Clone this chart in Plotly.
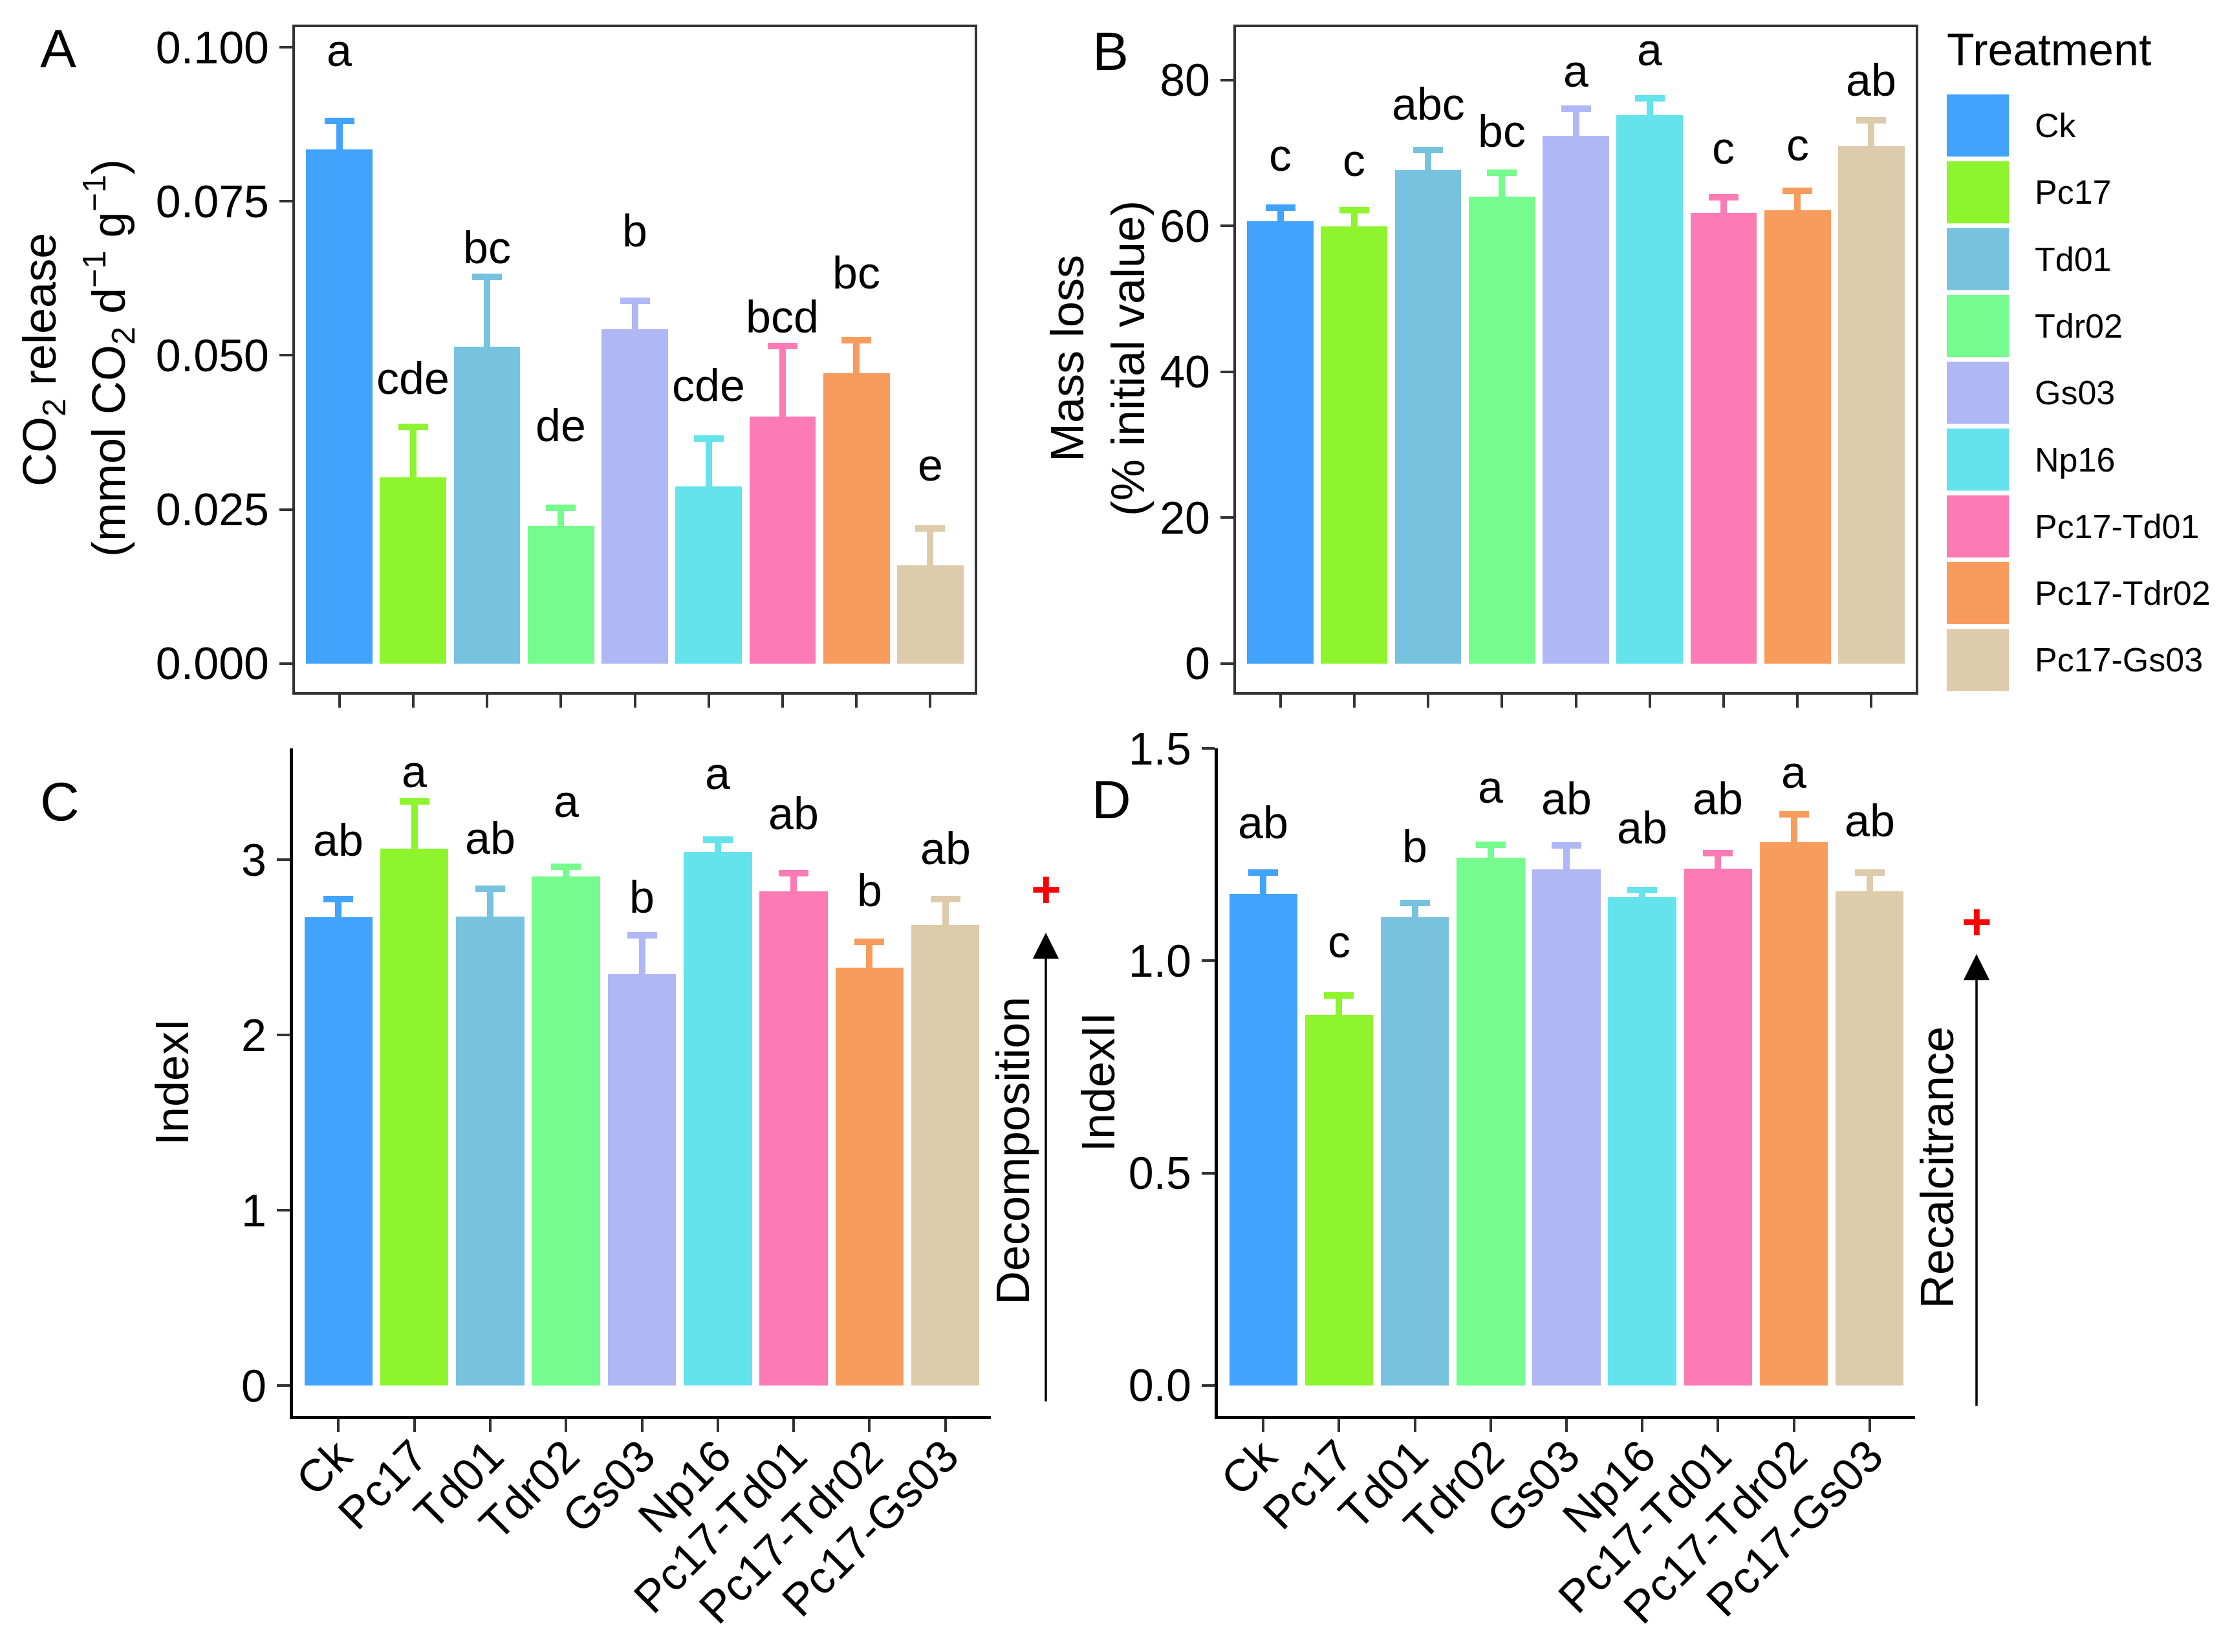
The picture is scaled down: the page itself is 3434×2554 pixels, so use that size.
import plotly.graph_objects as go

W, H = 3434, 2554
PAD = 8  # default page margin around the plot div
FW, FH = W - 2 * PAD, H - 2 * PAD
FONT = "Liberation Sans, Arial, sans-serif"

treatments = ["Ck", "Pc17", "Td01", "Tdr02", "Gs03", "Np16",
              "Pc17-Td01", "Pc17-Tdr02", "Pc17-Gs03"]
colors = ["#41A3FB", "#8DF42D", "#77C2DF", "#75FB8E", "#B0B7F5",
          "#64E3EC", "#FD7BB5", "#F89C5D", "#DDCBAB"]

# A: CO2 release
co2_mean = [0.0835, 0.0302, 0.0514, 0.0224, 0.0543, 0.0288, 0.0401, 0.0471, 0.0160]
co2_se = [0.0045, 0.0082, 0.0113, 0.0029, 0.0046, 0.0077, 0.0114, 0.0054, 0.0059]
co2_letters = ["a", "cde", "bc", "de", "b", "cde", "bcd", "bc", "e"]
co2_letter_y = [0.0960, 0.0428, 0.0640, 0.0351, 0.0667, 0.0416, 0.0528, 0.0599, 0.0287]
co2_ticks = [0, 0.025, 0.05, 0.075, 0.1]

# B: mass loss
mass_mean = [60.7, 60.0, 67.7, 64.1, 72.4, 75.2, 61.8, 62.2, 71.0]
mass_se = [1.8, 2.2, 2.7, 3.2, 3.7, 2.3, 2.1, 2.6, 3.5]
mass_letters = ["c", "c", "abc", "bc", "a", "a", "c", "c", "ab"]
mass_letter_y = [66.8, 66.1, 73.8, 70.1, 78.3, 81.2, 67.8, 68.2, 77.1]
mass_ticks = [0, 20, 40, 60, 80]

# C: IndexI
idx1_mean = [2.672, 3.062, 2.675, 2.905, 2.347, 3.045, 2.819, 2.385, 2.627]
idx1_se = [0.103, 0.270, 0.161, 0.054, 0.222, 0.068, 0.103, 0.147, 0.148]
idx1_letters = ["ab", "a", "ab", "a", "b", "a", "ab", "b", "ab"]
idx1_letter_y = [2.99, 3.38, 3.00, 3.21, 2.665, 3.37, 3.14, 2.70, 2.94]
idx1_ticks = [0, 1, 2, 3]

# D: IndexII
idx2_mean = [1.157, 0.873, 1.102, 1.242, 1.215, 1.150, 1.217, 1.279, 1.163]
idx2_se = [0.050, 0.046, 0.034, 0.031, 0.057, 0.017, 0.036, 0.065, 0.044]
idx2_letters = ["ab", "c", "b", "a", "ab", "ab", "ab", "a", "ab"]
idx2_letter_y = [1.275, 0.994, 1.218, 1.359, 1.331, 1.263, 1.331, 1.394, 1.279]
idx2_ticks = [0, 0.5, 1.0, 1.5]


def px(x):
    return (x - PAD) / FW


def py(y):
    return 1 - (y - PAD) / FH


panels = [
    dict(sfx="", mean=co2_mean, se=co2_se, letters=co2_letters, ly=co2_letter_y,
         dx=(456, 1507), dy=(41.7, 1070), yr=[-0.00464, 0.1033], ticks=co2_ticks,
         fmt=".3f", box=True),
    dict(sfx="2", mean=mass_mean, se=mass_se, letters=mass_letters, ly=mass_letter_y,
         dx=(1911, 2962), dy=(41.7, 1070), yr=[-3.92, 87.3], ticks=mass_ticks,
         fmt="d", box=True),
    dict(sfx="3", mean=idx1_mean, se=idx1_se, letters=idx1_letters, ly=idx1_letter_y,
         dx=(453, 1532), dy=(1157, 2189), yr=[-0.173, 3.635], ticks=idx1_ticks,
         fmt="d", box=False),
    dict(sfx="4", mean=idx2_mean, se=idx2_se, letters=idx2_letters, ly=idx2_letter_y,
         dx=(1883, 2961), dy=(1157, 2189), yr=[-0.0716, 1.5], ticks=idx2_ticks,
         fmt=".1f", box=False),
]

fig = go.Figure()
annotations = []
shapes = []

for p in panels:
    xa = "x" + p["sfx"]
    ya = "y" + p["sfx"]
    # push the lower cap of the one-sided error bar inside the bar, where it is hidden
    hide = (p["yr"][1] - p["yr"][0]) / (p["dy"][1] - p["dy"][0]) * 10
    for t, m, s, c in zip(treatments, p["mean"], p["se"], colors):
        fig.add_trace(go.Bar(
            x=[t], y=[m], width=0.9,
            marker=dict(color=c, line=dict(width=0)),
            error_y=dict(type="data", array=[s], arrayminus=[hide], symmetric=False,
                         color=c, thickness=10, width=23),
            xaxis=xa, yaxis=ya, showlegend=False, name=t,
        ))
    for t, lab, yv in zip(treatments, p["letters"], p["ly"]):
        annotations.append(dict(
            x=t, y=yv, xref=xa, yref=ya, text=lab, showarrow=False,
            yanchor="bottom", xanchor="center", yshift=-8,
            font=dict(family=FONT, size=70, color="black"),
        ))

    line_col = "#333333" if p["box"] else "black"
    line_w = 4 if p["box"] else 5
    fig.update_layout(**{
        "xaxis" + p["sfx"]: dict(
            domain=[px(p["dx"][0]), px(p["dx"][1])], anchor=ya,
            type="category", categoryorder="array", categoryarray=treatments,
            range=[-0.6, 8.6], showline=True, linecolor=line_col, linewidth=line_w,
            mirror=p["box"], ticks="outside", ticklen=20, tickwidth=4,
            tickcolor="#333333", showgrid=False, zeroline=False, automargin=False,
            showticklabels=not p["box"], tickangle=-45, ticklabelstandoff=-32,
            tickfont=dict(family=FONT, size=70, color="black"),
        ),
        "yaxis" + p["sfx"]: dict(
            domain=[py(p["dy"][1]), py(p["dy"][0])], anchor=xa,
            range=p["yr"], tickvals=p["ticks"], tickformat=p["fmt"],
            showline=True, linecolor=line_col, linewidth=line_w, mirror=p["box"],
            ticks="outside", ticklen=20, tickwidth=4, tickcolor="#333333",
            showgrid=False, zeroline=False, ticklabelstandoff=2, automargin=False,
            tickfont=dict(family=FONT, size=70, color="black"),
        ),
    })

# panel letters
for lab, x, y in [("A", 90, 75), ("B", 1717, 79), ("C", 92, 1239), ("D", 1718, 1236)]:
    annotations.append(dict(x=px(x), y=py(y), xref="paper", yref="paper", text=lab,
                            showarrow=False, xanchor="center", yanchor="middle",
                            font=dict(family=FONT, size=84, color="black")))

# axis titles
titles = [
    ("CO<sub>2</sub> release", 66, 556),
    ("(mmol CO<sub>2</sub> d<sup>\u22121</sup> g<sup>\u22121</sup>)", 168, 554),
    ("Mass loss", 1650, 554),
    ("(% initial value)", 1744, 554),
    ("IndexI", 266, 1673),
    ("IndexII", 1698, 1673),
    ("Decomposition", 1566, 1779),
    ("Recalcitrance", 2995, 1805),
]
for txt, x, y in titles:
    annotations.append(dict(x=px(x), y=py(y), xref="paper", yref="paper", text=txt,
                            showarrow=False, textangle=-90, xanchor="center",
                            yanchor="middle",
                            font=dict(family=FONT, size=72, color="black")))

# direction arrows with red plus
for x, tip, tail, plus_y in [(1617, 1442, 2168, 1375), (3056, 1475, 2175, 1424)]:
    annotations.append(dict(x=px(x), y=py(tip), xref="paper", yref="paper", text="",
                            showarrow=True, ax=0, ay=tail - tip, axref="pixel",
                            ayref="pixel", arrowhead=2, arrowsize=2.3, arrowwidth=3.5,
                            arrowcolor="black"))
    annotations.append(dict(x=px(x), y=py(plus_y), xref="paper", yref="paper",
                            text="<b>+</b>", showarrow=False, xanchor="center",
                            yanchor="middle",
                            font=dict(family=FONT, size=80, color="red")))

# legend drawn as keys + labels
annotations.append(dict(x=px(3008), y=py(77), xref="paper", yref="paper",
                        text="Treatment", showarrow=False, xanchor="left",
                        yanchor="middle", font=dict(family=FONT, size=70, color="black")))
for i, (t, c) in enumerate(zip(treatments, colors)):
    top = 146 + i * 103.3
    shapes.append(dict(type="rect", xref="paper", yref="paper",
                       x0=px(3010), x1=px(3106), y0=py(top + 96), y1=py(top),
                       fillcolor=c, line=dict(width=0)))
    annotations.append(dict(x=px(3144), y=py(top + 48), xref="paper", yref="paper",
                            text=t, showarrow=False, xanchor="left", yanchor="middle",
                            font=dict(family=FONT, size=52, color="black")))

fig.update_layout(
    width=FW, height=FH,
    margin=dict(l=0, r=0, t=0, b=0, autoexpand=False),
    paper_bgcolor="white", plot_bgcolor="white",
    barmode="overlay", bargap=0,
    showlegend=False,
    annotations=annotations, shapes=shapes,
    font=dict(family=FONT),
)

fig.write_html("out.html")
